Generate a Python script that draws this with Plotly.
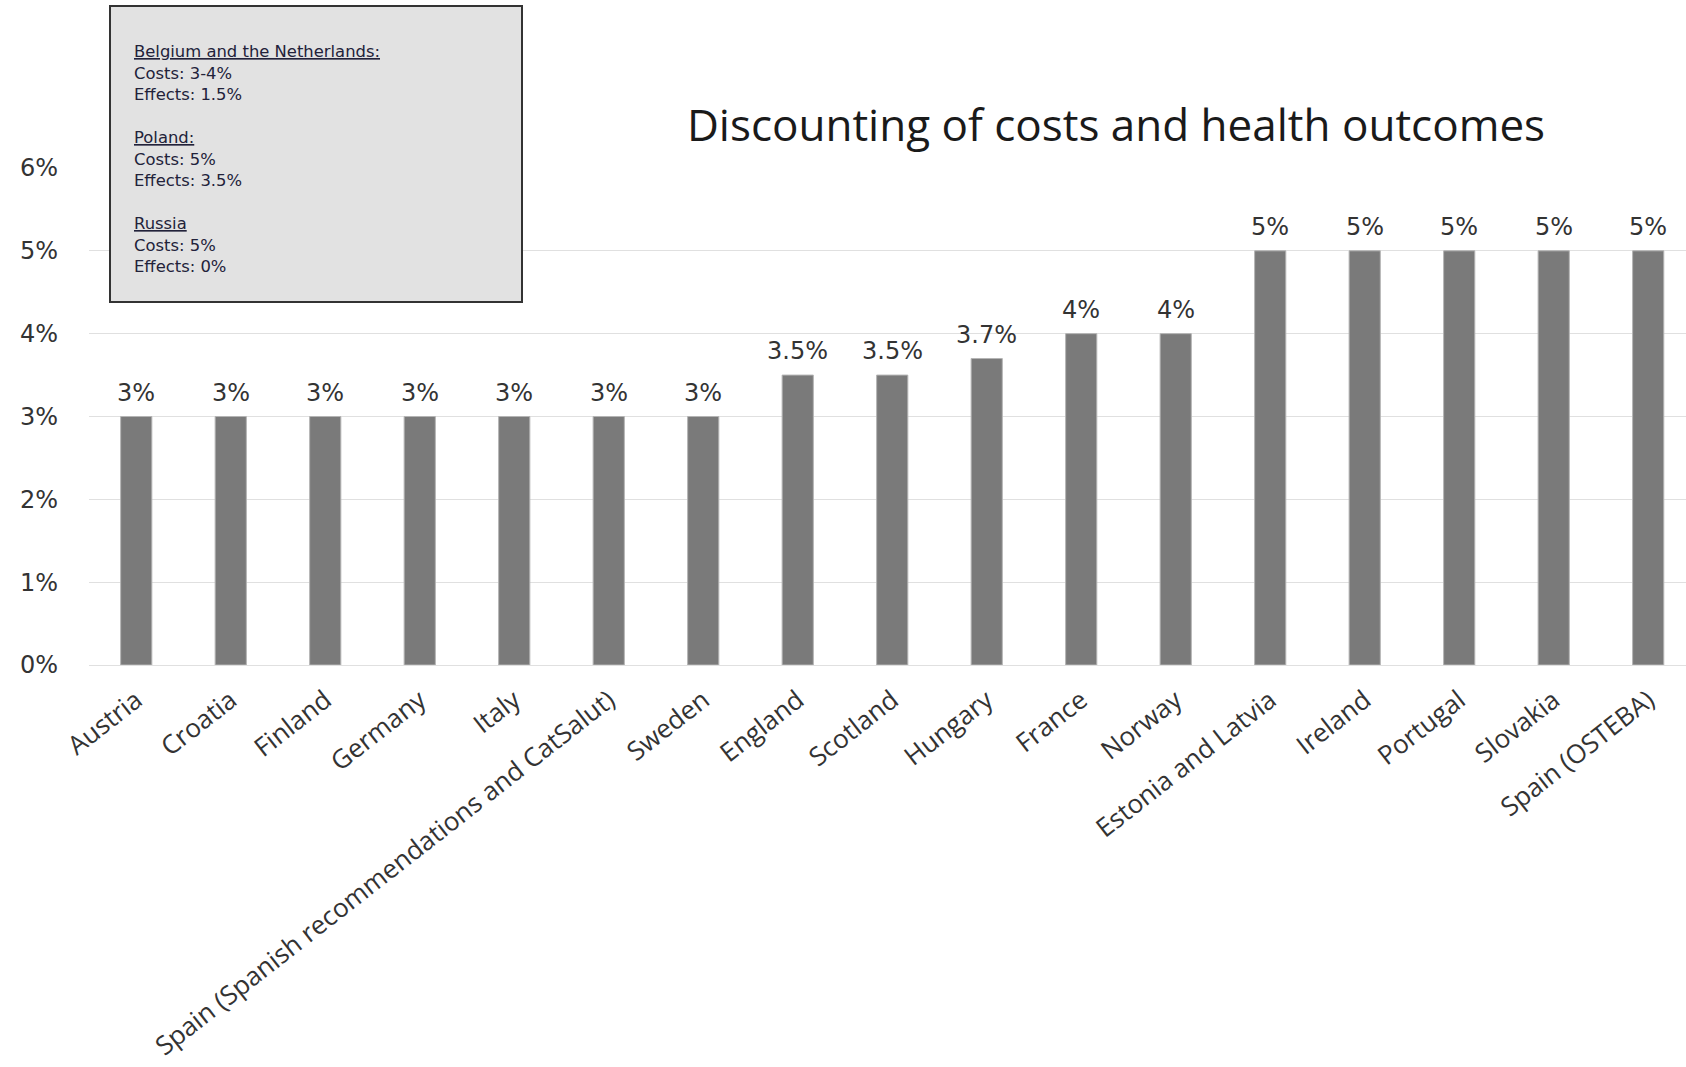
import plotly.graph_objects as go

categories = ["Austria", "Croatia", "Finland", "Germany", "Italy",
              "Spain (Spanish recommendations and CatSalut)", "Sweden",
              "England", "Scotland", "Hungary", "France", "Norway",
              "Estonia and Latvia", "Ireland", "Portugal", "Slovakia",
              "Spain (OSTEBA)"]
values = [3, 3, 3, 3, 3, 3, 3, 3.5, 3.5, 3.7, 4, 4, 5, 5, 5, 5, 5]
value_labels = [f"{v:g}%" for v in values]

y_ticks = [0, 1, 2, 3, 4, 5, 6]
y_tick_labels = [f"{t}%" for t in y_ticks]

box_countries = ["Belgium and the Netherlands:", "Poland:", "Russia"]
box_costs = ["3-4%", "5%", "5%"]
box_effects = ["1.5%", "3.5%", "0%"]

title_text = "Discounting of costs and health outcomes"

W, H = 1686, 1067
L, R, T, B = 89, 0, 168, 402
pw, ph = W - L - R, H - T - B

def px(x):
    return (x - L) / pw

def py(y):
    return (H - B - y) / ph

fig = go.Figure()
fig.add_trace(go.Bar(
    x=categories, y=values, width=0.33,
    marker=dict(color="#7a7a7a", line=dict(color="#b4b4b4", width=1)),
    showlegend=False, hoverinfo="x+y",
))

for c, v, lab in zip(categories, values, value_labels):
    fig.add_annotation(x=c, y=v, xref="x", yref="y", text=lab, showarrow=False,
                       yanchor="middle", yshift=24,
                       font=dict(family="DejaVu Sans", size=24, color="#333333"))

# note box
fig.add_shape(type="rect", xref="paper", yref="paper",
              x0=px(110), x1=px(522), y0=py(302), y1=py(6),
              fillcolor="#e2e2e2", line=dict(color="#333333", width=2),
              layer="above")
lines = []
for c, co, ef in zip(box_countries, box_costs, box_effects):
    lines += [f"<u>{c}</u>", f"Costs: {co}", f"Effects: {ef}", ""]
lines = lines[:-1]
for i, ln in enumerate(lines):
    if not ln:
        continue
    fig.add_annotation(xref="paper", yref="paper", x=px(132), y=py(51.6 + 21.5 * i),
                       xanchor="left", yanchor="middle", showarrow=False, text=ln,
                       font=dict(family="DejaVu Sans", size=16.4, color="#22223a"))

fig.update_layout(
    width=W, height=H,
    margin=dict(l=L, r=R, t=T, b=B, pad=0),
    paper_bgcolor="white", plot_bgcolor="white",
    title=dict(text=title_text, xref="paper", x=px(1116), xanchor="center",
               yref="container", y=1 - 126 / H, yanchor="middle",
               font=dict(family="Open Sans", size=44, color="#1a1a1a")),
    xaxis=dict(range=[-0.5, 16.4], tickangle=-38, showgrid=False, showline=False,
               tickfont=dict(family="Open Sans", size=26, color="#333333"),
               ticklabelstandoff=14),
    yaxis=dict(range=[0, 6], tickvals=y_ticks, ticktext=y_tick_labels,
               showgrid=True, gridcolor="#e0e0e0", gridwidth=1,
               zeroline=True, zerolinecolor="#e0e0e0", zerolinewidth=1,
               showline=False,
               tickfont=dict(family="DejaVu Sans", size=24, color="#333333"),
               ticklabelstandoff=30),
)

fig.write_html("out.html")
